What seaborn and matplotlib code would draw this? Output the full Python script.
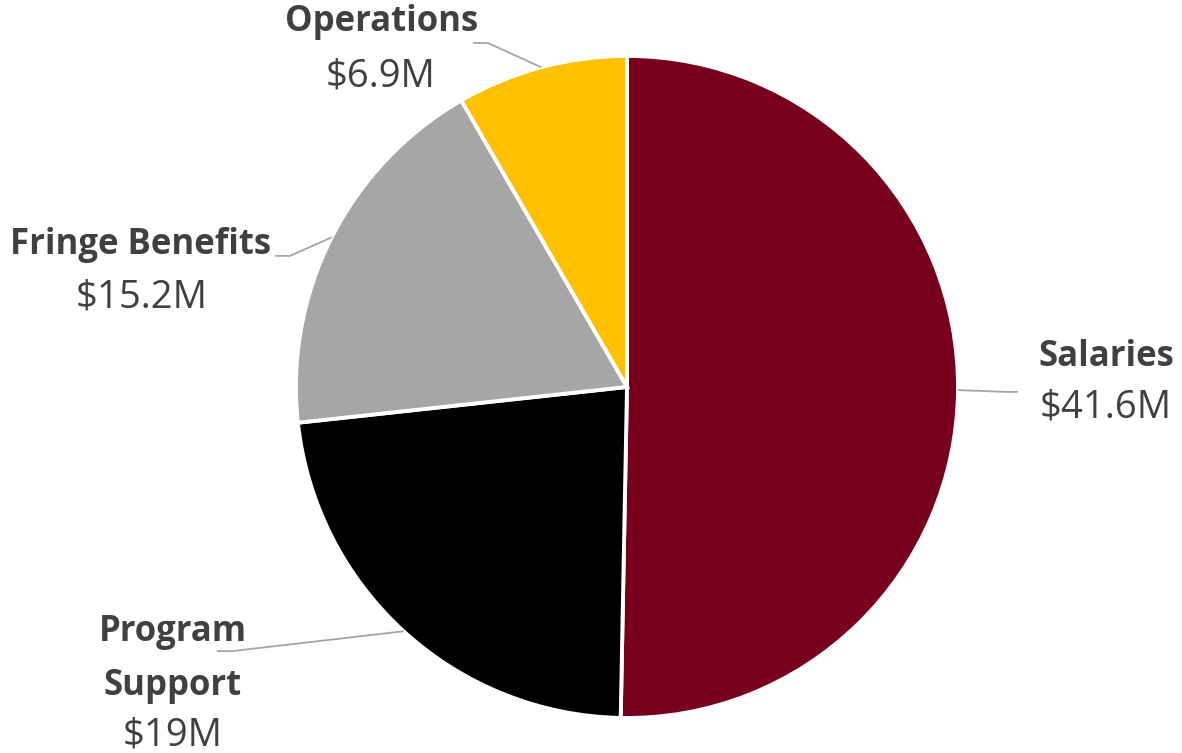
import matplotlib
matplotlib.use("Agg")
import matplotlib.pyplot as plt
from matplotlib import font_manager
import seaborn as sns
import numpy as np

# Budget breakdown (millions of dollars)
categories = ["Salaries", "Program Support", "Fringe Benefits", "Operations"]
label_lines = [["Salaries"], ["Program", "Support"], ["Fringe Benefits"], ["Operations"]]
values = [41.6, 19.0, 15.2, 6.9]
value_labels = ["$41.6M", "$19M", "$15.2M", "$6.9M"]
colors = ["#78001C", "#000000", "#A6A6A6", "#FFC000"]

sns.set_theme(style="white")


def pick_family(candidates):
    for name in candidates:
        try:
            font_manager.findfont(font_manager.FontProperties(family=name),
                                  fallback_to_default=False)
            return name
        except Exception:
            continue
    return "DejaVu Sans"


family = pick_family(["Open Sans", "Lato", "DejaVu Sans"])
plt.rcParams["font.family"] = [family, "DejaVu Sans"]

TEXT = "#404040"
LEADER = "#A6A6A6"

fig = plt.figure(figsize=(11.82, 7.53), dpi=100)
fig.patch.set_facecolor("white")
ax = fig.add_axes([0.2504, 0.0465, 0.5601, 0.8792])

wedges, _ = ax.pie(
    values,
    colors=colors,
    startangle=90,
    counterclock=False,
    radius=1.0,
    wedgeprops=dict(edgecolor="white", linewidth=2.8),
)
ax.set_xlim(-1, 1)
ax.set_ylim(-1, 1)
ax.set_aspect("equal")
ax.axis("off")

# Label layout (axes data units, pie radius = 1)
# name line centres, value centre, leader elbow, leader end
layout = {
    "Salaries": dict(names=[(1.447, 0.091)], value=(1.447, -0.063),
                     elbow=(1.150, -0.015), end=(1.181, -0.015)),
    "Program Support": dict(names=[(-1.372, -0.740), (-1.372, -0.903)],
                            value=(-1.372, -1.054),
                            elbow=(-1.193, -0.798), end=(-1.239, -0.798)),
    "Fringe Benefits": dict(names=[(-1.471, 0.429)], value=(-1.465, 0.269),
                            elbow=(-1.018, 0.396), end=(-1.063, 0.396)),
    "Operations": dict(names=[(-0.740, 1.103)], value=(-0.743, 0.938),
                       elbow=(-0.420, 1.039), end=(-0.465, 1.039)),
}

NAME_SIZE = 25
VALUE_SIZE = 27.5

for wedge, cat, lines, vlab in zip(wedges, categories, label_lines, value_labels):
    spec = layout[cat]
    mid = np.deg2rad((wedge.theta1 + wedge.theta2) / 2.0)
    sx, sy = np.cos(mid), np.sin(mid)
    ex, ey = spec["elbow"]
    tx, ty = spec["end"]
    ax.plot([sx, ex, tx], [sy, ey, ty], color=LEADER, lw=1.3,
            solid_capstyle="butt", clip_on=False, zorder=1)
    for line, (nx, ny) in zip(lines, spec["names"]):
        ax.text(nx, ny, line, ha="center", va="center", fontsize=NAME_SIZE,
                fontweight="bold", color=TEXT, clip_on=False)
    vx, vy = spec["value"]
    ax.text(vx, vy, vlab, ha="center", va="center", fontsize=VALUE_SIZE,
            color=TEXT, clip_on=False)

fig.savefig("out.png", dpi=100, facecolor="white")
